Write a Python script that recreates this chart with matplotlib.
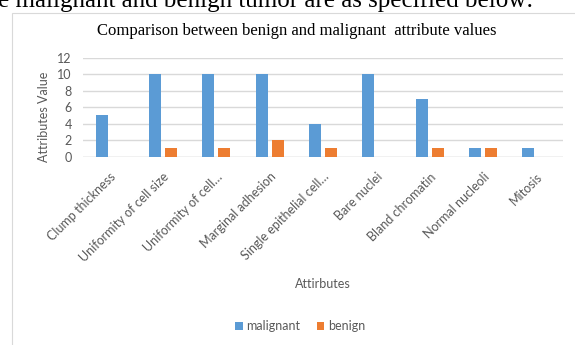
import matplotlib.pyplot as plt
import numpy as np
from matplotlib.patches import Rectangle

categories = ["Clump thickness", "Uniformity of cell size", "Uniformity of cell\u2026",
              "Marginal adhesion", "Single epithelial cell\u2026", "Bare nuclei",
              "Bland chromatin", "Normal nucleoli", "Mitosis"]
malignant = [5, 10, 10, 10, 4, 10, 7, 1, 1]
benign = [0, 1, 1, 2, 1, 0, 1, 1, 0]
yticks = [0, 2, 4, 6, 8, 10, 12]

c_mal = '#5B9BD5'
c_ben = '#ED7D31'
grey = '#595959'
sans = ['Lato', 'DejaVu Sans']
serif = ['Liberation Serif', 'DejaVu Serif']
W, H = 575, 345

fig = plt.figure(figsize=(5.75, 3.45), dpi=100)
ax = fig.add_axes([83 / W, 1 - 156.7 / H, 480 / W, 99 / H])

x = np.arange(len(categories))
w = 0.225
off = 0.15
ax.bar(x - off, malignant, w, color=c_mal, label='malignant', zorder=3)
ax.bar(x + off, benign, w, color=c_ben, label='benign', zorder=3)

ax.set_xlim(-0.5, len(categories) - 0.5)
ax.set_ylim(0, 12)
ax.set_yticks(yticks)
ax.yaxis.grid(True, color='#D9D9D9', linewidth=1, zorder=0)
ax.set_xticks(x)
ax.set_xticklabels(categories, rotation=45, ha='right', va='top',
                   rotation_mode='anchor', family=sans, fontsize=9, color=grey)
for t in ax.get_yticklabels():
    t.set_family(sans)
    t.set_fontsize(9)
    t.set_color(grey)
ax.tick_params(axis='y', length=0, pad=8)
ax.tick_params(axis='x', length=0, pad=10)
for s in ax.spines.values():
    s.set_visible(False)
ax.axhline(0, color='#D9D9D9', linewidth=1, zorder=1)

fig.text(43.5 / W, 1 - 116.5 / H, 'Attributes Value', family=sans, fontsize=9,
         color=grey, rotation=90, ha='center', va='center')
fig.text(323 / W, 1 - 284 / H, 'Attirbutes', family=sans, fontsize=9, color=grey,
         ha='center', va='center')
fig.text(297 / W, 1 - 35 / H, 'Comparison between benign and malignant  attribute values',
         family=serif, fontsize=12, ha='center', va='baseline')

leg = fig.legend(loc='center', bbox_to_anchor=(300 / W, 1 - 326 / H), ncol=2,
                 frameon=False, prop={'family': sans, 'size': 9}, handlelength=0.6,
                 handleheight=0.6, handletextpad=0.3, columnspacing=1.3)
for t in leg.get_texts():
    t.set_color(grey)

# chart border and cut-off line of surrounding text
fig.patches.append(Rectangle((12 / W, -0.05), 1.0, (H - 13) / H + 0.05,
                             transform=fig.transFigure, fill=False,
                             edgecolor='#D9D9D9', linewidth=0.8))
fig.text(-0.003, 1 - 7 / H, 'e malignant and benign tumor are as specified below:',
         family=serif, fontsize=18, ha='left', va='baseline')

plt.savefig('out.png', dpi=100)
